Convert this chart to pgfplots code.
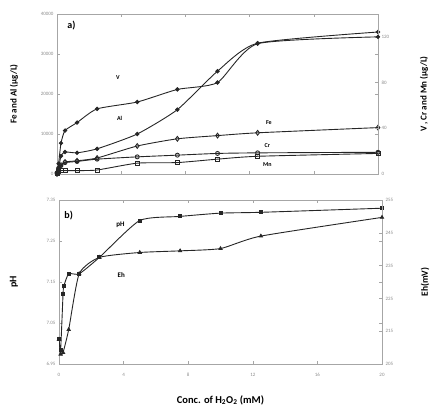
\documentclass[border=0pt]{standalone}
\usepackage{fontspec}
\setmainfont{Carlito}
\usepackage{pgfplots}
\pgfplotsset{compat=1.18}
\pgfplotsset{
  base/.style={
    scale only axis,
    axis line style={gray!70, line width=0.8pt},
    tick style={gray!70, line width=0.5pt},
    tick align=inside,
    major tick length=3pt,
    tick label style={font=\fontsize{5}{6}\selectfont, text=gray!90},
    /pgf/number format/assume math mode=true,
    /pgf/number format/1000 sep={},
    xmin=0, xmax=20,
    xtick={0,4,8,12,16,20},
    every axis plot/.append style={line width=0.9pt, black!85, smooth, tension=0.35},
  },
}
\begin{document}
\begin{tikzpicture}[x=1pt,y=1pt]
\useasboundingbox (0,0) rectangle (436,416);
% ---------- top panel, left axis ----------
\begin{axis}[base,
  at={(57pt,242pt)}, anchor=south west,
  width=321pt, height=160pt,
  ymin=0, ymax=40000,
  ytick={0,10000,20000,30000,40000},
  xticklabels={},
  yticklabel style={/pgf/number format/fixed},
  scaled y ticks=false,
  ylabel={Fe and Al (µg/L)},
  every axis y label/.style={at={(rel axis cs:0,0.5)}, xshift=-43pt, rotate=90, anchor=center, font=\fontsize{9}{10}\bfseries\selectfont},
]
\addplot[mark=*, mark size=1.7pt] coordinates {
(0,250) (0.1,1500) (0.25,4500) (0.5,5500) (1.25,5300) (2.5,6300) (5,10000) (7.5,16100) (10,25700) (12.5,32700) (20,35500)};
\addplot[mark=diamond, mark size=2.4pt, mark options={fill=white}] coordinates {
(0,0) (0.1,800) (0.25,2000) (0.5,3000) (1.25,3300) (2.5,4000) (5,7000) (7.5,8800) (10,9600) (12.5,10300) (20,11600)};
\node[font=\fontsize{10}{11}\bfseries\selectfont] at (axis cs:0.9,37000) {a)};
\node[font=\fontsize{6}{7}\bfseries\selectfont] at (axis cs:3.8,24150) {V};
\node[font=\fontsize{6}{7}\bfseries\selectfont] at (axis cs:3.9,13800) {Al};
\node[font=\fontsize{6}{7}\bfseries\selectfont] at (axis cs:13.2,12800) {Fe};
\node[font=\fontsize{6}{7}\bfseries\selectfont] at (axis cs:13.1,7050) {Cr};
\node[font=\fontsize{6}{7}\bfseries\selectfont] at (axis cs:13.1,2260) {Mn};
\end{axis}
% ---------- top panel, right axis ----------
\begin{axis}[base,
  at={(57pt,242pt)}, anchor=south west,
  width=321pt, height=160pt,
  axis x line=none, axis y line*=right,
  ymin=0, ymax=140,
  ytick={0,40,80,120},
  ylabel={V , Cr and Mn (µg/L)},
  every axis y label/.style={at={(rel axis cs:1,0.5)}, xshift=46pt, rotate=90, anchor=center, font=\fontsize{9}{10}\bfseries\selectfont},
]
\addplot[mark=*, mark size=1.7pt] coordinates {
(0,1) (0.1,9) (0.25,27) (0.5,38) (1.25,45) (2.5,57) (5,63) (7.5,74) (10,80) (12.5,114) (20,120)};
\addplot[mark=o, mark size=2pt] coordinates {
(0,1) (0.1,5) (0.25,8) (0.5,10) (1.25,11) (2.5,13) (5,15) (7.5,16.5) (10,18) (12.5,18.5) (20,19)};
\addplot[mark=square, mark size=2pt] coordinates {
(0,0.5) (0.1,2) (0.25,3) (0.5,3) (1.25,3) (2.5,3.5) (5,9.5) (7.5,10) (10,13) (12.5,15.5) (20,18)};
\end{axis}
% ---------- bottom panel, left axis (pH) ----------
\begin{axis}[base,
  at={(59pt,52pt)}, anchor=south west,
  width=323pt, height=164pt,
  ymin=6.95, ymax=7.35,
  ytick={6.95,7.05,7.15,7.25,7.35},
  yticklabel style={/pgf/number format/fixed, /pgf/number format/precision=2, /pgf/number format/fixed zerofill},
  ylabel={pH},
  every axis y label/.style={at={(rel axis cs:0,0.5)}, xshift=-45pt, rotate=90, anchor=center, font=\fontsize{10}{11}\bfseries\selectfont},
  xlabel={Conc. of H\textsubscript{2}O\textsubscript{2} (mM)},
  every axis x label/.style={at={(rel axis cs:0.5,0)}, yshift=-36pt, anchor=center, font=\fontsize{10.5}{12}\bfseries\selectfont},
  xticklabel style={yshift=-6pt},
]
\addplot[mark=square*, mark size=1.5pt] coordinates {
(0,7.01) (0.1,6.985) (0.25,7.12) (0.3,7.14) (0.6,7.17) (1.25,7.17) (2.5,7.21) (5,7.30) (7.5,7.31) (10,7.318) (12.5,7.32) (20,7.33)};
\node[font=\fontsize{10}{11}\bfseries\selectfont] at (axis cs:0.6,7.313) {b)};
\node[font=\fontsize{7}{8}\bfseries\selectfont] at (axis cs:3.8,7.289) {pH};
\node[font=\fontsize{7}{8}\bfseries\selectfont] at (axis cs:3.85,7.167) {Eh};
\end{axis}
% ---------- bottom panel, right axis (Eh) ----------
\begin{axis}[base,
  at={(59pt,52pt)}, anchor=south west,
  width=323pt, height=164pt,
  axis x line=none, axis y line*=right,
  ymin=205, ymax=255,
  ytick={205,215,225,235,245,255},
  ylabel={Eh(mV)},
  every axis y label/.style={at={(rel axis cs:1,0.5)}, xshift=43pt, rotate=90, anchor=center, font=\fontsize{9.5}{11}\bfseries\selectfont},
]
\addplot[mark=triangle*, mark size=1.8pt] coordinates {
(0,212.5) (0.1,208) (0.25,208.5) (0.6,215.5) (1.25,232.5) (2.5,237.5) (5,239) (7.5,239.5) (10,240.2) (12.5,244) (20,249.7)};
\end{axis}
\end{tikzpicture}
\end{document}
